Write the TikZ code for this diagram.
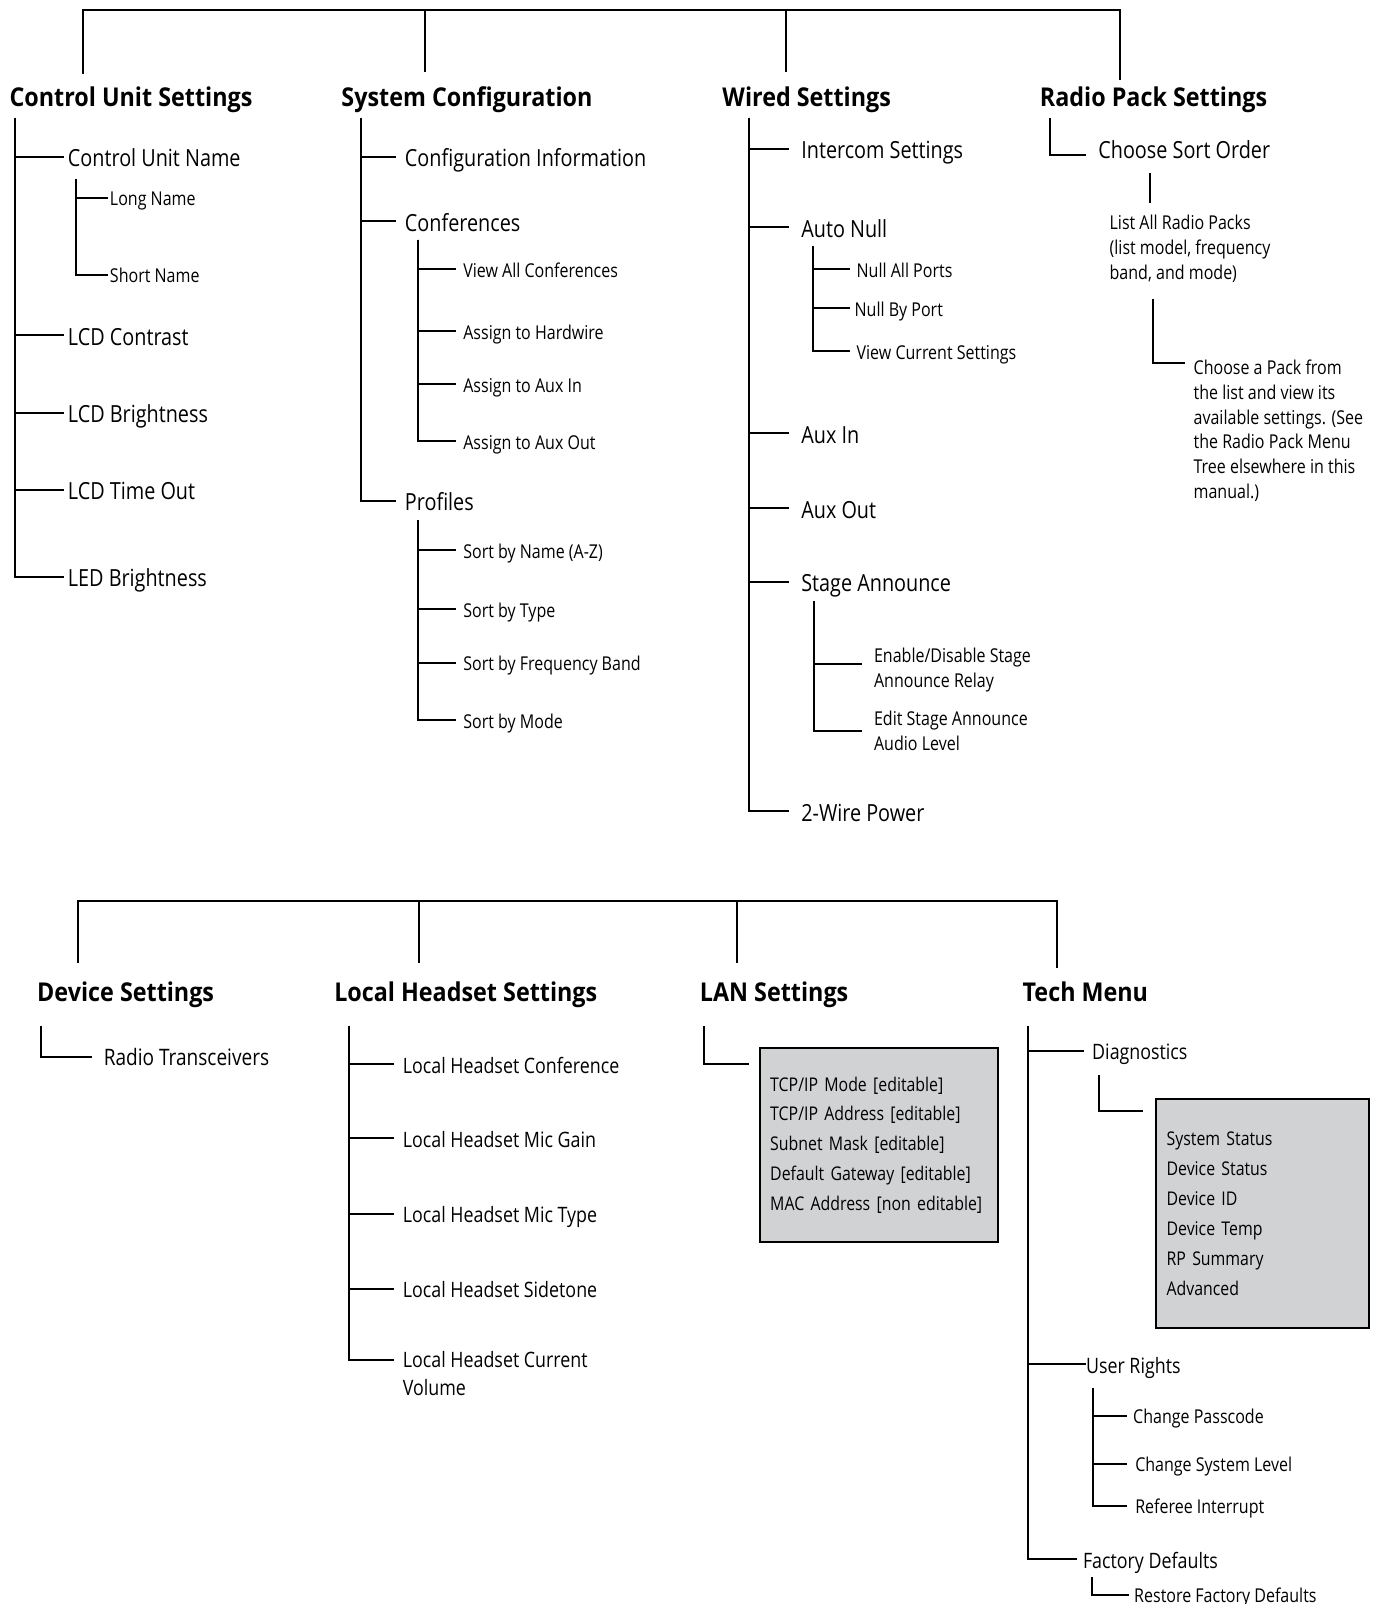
\documentclass[tikz,border=0pt]{standalone}
\usepackage{fontspec}
\setmainfont{Open Sans}[FakeStretch=0.84,BoldFeatures={FakeStretch=0.9}]
\usetikzlibrary{calc}
\definecolor{boxgray}{RGB}{209,210,212}

\tikzset{
	tree/.style={line width=1.1pt},
	head/.style={anchor=west, inner sep=0pt, text height=10.8pt, text depth=3.2pt, font=\fontsize{14.4}{17}\selectfont\bfseries},
	entry/.style={anchor=west, inner sep=0pt, text height=11.2pt, text depth=0pt, font=\fontsize{13.1}{15.5}\selectfont},
	deventry/.style={anchor=west, inner sep=0pt, text height=10.8pt, text depth=0pt, font=\fontsize{12.6}{15}\selectfont},
	lowentry/.style={anchor=west, inner sep=0pt, text height=10.1pt, text depth=0pt, font=\fontsize{11.8}{14}\selectfont},
	subentry/.style={anchor=west, inner sep=0pt, text height=9.1pt, text depth=0pt, font=\fontsize{10.6}{13.8}\selectfont},
	note/.style={anchor=north west, inner sep=0pt, align=left, font=\fontsize{10.6}{13.8}\selectfont},
	entrynote/.style={anchor=north west, inner sep=0pt, align=left, font=\fontsize{11.8}{15.3}\selectfont},
	infobox/.style={draw, fill=boxgray, line width=1.1pt, anchor=north west, inner xsep=0.2cm, inner ysep=0pt,
		align=left, font=\fontsize{10.5}{16.6}\selectfont}
}

\begin{document}
\begin{tikzpicture}[x=0.02cm, y=-0.02cm]
		\useasboundingbox (0,0) rectangle (1340,1566);

		% upper tree
		\coordinate (rail) at (0,10);
		\coordinate (b1) at (81,72);
		\coordinate (b2) at (415,70);
		\coordinate (b3) at (767,70);
		\coordinate (b4) at (1093,78);
		\draw[tree] (b1) |- (rail -| b4) -- (b4);
		\draw[tree] (b2) -- (b2 |- rail);
		\draw[tree] (b3) -- (b3 |- rail);

		\begin{scope}
			\node[head] (cus) at (9,97) {Control Unit Settings};
			\coordinate (cusT) at (15,115);
			\node[entry] (cun) at (66,153) {Control Unit Name};
			\node[subentry] (lname) at (107,193) {Long Name};
			\node[subentry] (sname) at (107,268) {Short Name};
			\node[entry] (lcdc) at (66,327) {LCD Contrast};
			\node[entry] (lcdb) at (66,403) {LCD Brightness};
			\node[entry] (lcdt) at (66,478) {LCD Time Out};
			\node[entry] (ledb) at (66,563) {LED Brightness};
			\coordinate (cunT) at (74,175);

			\draw[tree] (cusT) |- ($(cun.west)+(-4,0)$);
			\draw[tree] (cusT) |- ($(lcdc.west)+(-4,0)$);
			\draw[tree] (cusT) |- ($(lcdb.west)+(-4,0)$);
			\draw[tree] (cusT) |- ($(lcdt.west)+(-4,0)$);
			\draw[tree] (cusT) |- ($(ledb.west)+(-4,0)$);
			\draw[tree] (cunT) |- ($(lname.west)+(-2,0)$);
			\draw[tree] (cunT) |- ($(sname.west)+(-2,0)$);
		\end{scope}

		\begin{scope}
			\node[head] (sysc) at (333,97) {System Configuration};
			\coordinate (syscT) at (352,115);
			\node[entry] (cinfo) at (395,153) {Configuration Information};
			\node[entry] (conf) at (395,216) {Conferences};
			\node[entry] (prof) at (395,489) {Profiles};
			\coordinate (confT) at (408,234);
			\node[subentry] (vac) at (452,263) {View All Conferences};
			\node[subentry] (ahw) at (452,323) {Assign to Hardwire};
			\node[subentry] (aai) at (452,375) {Assign to Aux In};
			\node[subentry] (aao) at (452,431) {Assign to Aux Out};
			\coordinate (profT) at (408,508);
			\node[subentry] (sbn) at (452,537) {Sort by Name (A-Z)};
			\node[subentry] (sbt) at (452,595) {Sort by Type};
			\node[subentry] (sbf) at (452,647) {Sort by Frequency Band};
			\node[subentry] (sbm) at (452,703) {Sort by Mode};

			\draw[tree] (syscT) |- ($(cinfo.west)+(-8,0)$);
			\draw[tree] (syscT) |- ($(conf.west)+(-8,0)$);
			\draw[tree] (syscT) |- ($(prof.west)+(-8,0)$);
			\draw[tree] (confT) |- ($(vac.west)+(-7,0)$);
			\draw[tree] (confT) |- ($(ahw.west)+(-7,0)$);
			\draw[tree] (confT) |- ($(aai.west)+(-7,0)$);
			\draw[tree] (confT) |- ($(aao.west)+(-7,0)$);
			\draw[tree] (profT) |- ($(sbn.west)+(-7,0)$);
			\draw[tree] (profT) |- ($(sbt.west)+(-7,0)$);
			\draw[tree] (profT) |- ($(sbf.west)+(-7,0)$);
			\draw[tree] (profT) |- ($(sbm.west)+(-7,0)$);
		\end{scope}

		\begin{scope}
			\node[head] (wired) at (705,97) {Wired Settings};
			\coordinate (wiredT) at (731,115);
			\node[entry] (icom) at (782,145) {Intercom Settings};
			\node[entry] (anull) at (782,222) {Auto Null};
			\node[entry] (auxin) at (782,423) {Aux In};
			\node[entry] (auxout) at (782,496) {Aux Out};
			\node[entry] (stage) at (782,568) {Stage Announce};
			\node[entry] (twow) at (782,792) {2-Wire Power};
			\coordinate (anullT) at (794,240);
			\node[subentry] (nap) at (836,263) {Null All Ports};
			\node[subentry] (nbp) at (834,301) {Null By Port};
			\node[subentry] (vcs) at (836,343) {View Current Settings};
			\coordinate (stageT) at (795,587);
			\node[note] (ena) at (853,632) {Enable/Disable Stage\\Announce Relay};
			\node[note] (edit) at (853,694) {Edit Stage Announce\\Audio Level};

			\draw[tree] (wiredT) |- ($(icom.west)+(-12,0)$);
			\draw[tree] (wiredT) |- ($(anull.west)+(-12,0)$);
			\draw[tree] (wiredT) |- ($(auxin.west)+(-12,0)$);
			\draw[tree] (wiredT) |- ($(auxout.west)+(-12,0)$);
			\draw[tree] (wiredT) |- ($(stage.west)+(-12,0)$);
			\draw[tree] (wiredT) |- ($(twow.west)+(-12,0)$);
			\draw[tree] (anullT) |- ($(nap.west)+(-6,0)$);
			\draw[tree] (anullT) |- ($(nbp.west)+(-4,0)$);
			\draw[tree] (anullT) |- ($(vcs.west)+(-6,0)$);
			\draw[tree] (stageT) |- ($(ena.north west)+(-11,16)$);
			\draw[tree] (stageT) |- ($(edit.north west)+(-11,20)$);
		\end{scope}

		\begin{scope}
			\node[head] (radio) at (1015,97) {Radio Pack Settings};
			\coordinate (radioT) at (1025,115);
			\node[entry] (sort) at (1072,145) {Choose Sort Order};
			\node[note] (packs) at (1083,210) {List All Radio Packs\\(list model, frequency\\band, and mode)};
			\coordinate (packsB) at (1126,292);
			\node[note] (pack) at (1165,351) {Choose a Pack from\\the list and view its\\available settings. (See\\the Radio Pack Menu\\Tree elsewhere in this\\manual.)};

			\draw[tree] (radioT) |- ($(sort.west)+(-12,6)$);
			\draw[tree] ($(sort.south west)+(51,14)$) -- ($(packs.north west)+(40,-12)$);
			\draw[tree] (packsB) |- ($(pack.north west)+(-8,3)$);
		\end{scope}

		% lower tree
		\coordinate (rail2) at (0,880);
		\coordinate (c1) at (76,940);
		\coordinate (c2) at (409,940);
		\coordinate (c3) at (720,940);
		\coordinate (c4) at (1032,945);
		\draw[tree] (c1) |- (rail2 -| c4) -- (c4);
		\draw[tree] (c2) -- (c2 |- rail2);
		\draw[tree] (c3) -- (c3 |- rail2);

		\begin{scope}
			\node[head] (dev) at (36,971) {Device Settings};
			\coordinate (devT) at (40,1002);
			\node[deventry] (rtx) at (101,1031) {Radio Transceivers};
			\draw[tree] (devT) |- ($(rtx.west)+(-11,1)$);
		\end{scope}

		\begin{scope}
			\node[head] (lhs) at (326,971) {Local Headset Settings};
			\coordinate (lhsT) at (341,1002);
			\node[lowentry] (lhc) at (393,1039) {Local Headset Conference};
			\node[lowentry] (lhg) at (393,1111) {Local Headset Mic Gain};
			\node[lowentry] (lht) at (393,1185) {Local Headset Mic Type};
			\node[lowentry] (lhst) at (393,1258) {Local Headset Sidetone};
			\node[entrynote] (lhv) at (393,1319) {Local Headset Current\\Volume};

			\draw[tree] (lhsT) |- ($(lhc.west)+(-8,0)$);
			\draw[tree] (lhsT) |- ($(lhg.west)+(-8,0)$);
			\draw[tree] (lhsT) |- ($(lht.west)+(-8,0)$);
			\draw[tree] (lhsT) |- ($(lhst.west)+(-8,0)$);
			\draw[tree] (lhsT) |- ($(lhv.north west)+(-8,9)$);
		\end{scope}

		\begin{scope}
			\node[head] (lan) at (683,971) {LAN Settings};
			\coordinate (lanT) at (687,1002);
			\node[infobox, text width=4.24cm, minimum height=3.8cm] (lanbox) at (741,1022)
				{TCP/IP Mode [editable]\\TCP/IP Address [editable]\\Subnet Mask [editable]\\Default Gateway [editable]\\MAC Address [non editable]};
			\draw[tree] (lanT) |- ($(lanbox.north west)+(-10,17)$);
		\end{scope}

		\begin{scope}
			\node[head] (tech) at (998,971) {Tech Menu};
			\coordinate (techT) at (1004,1002);
			\node[lowentry] (diag) at (1066,1026) {Diagnostics};
			\node[lowentry] (urights) at (1060,1332) {User Rights};
			\node[lowentry] (fdef) at (1057,1522) {Factory Defaults};
			\coordinate (diagT) at (1073,1050);
			\node[infobox, text width=3.76cm, minimum height=4.48cm] (diagbox) at (1128,1072)
				{System Status\\Device Status\\Device ID\\Device Temp\\RP Summary\\Advanced};
			\coordinate (urT) at (1067,1355);
			\node[subentry] (cpass) at (1106,1382) {Change Passcode};
			\node[subentry] (csys) at (1108,1429) {Change System Level};
			\node[subentry] (ref) at (1108,1470) {Referee Interrupt};
			\coordinate (fdT) at (1066,1540);
			\node[subentry] (rfd) at (1107,1557) {Restore Factory Defaults};

			\draw[tree] (techT) |- ($(diag.west)+(-8,0)$);
			\draw[tree] (techT) |- (urights.west);
			\draw[tree] (techT) |- ($(fdef.west)+(-6,0)$);
			\draw[tree] (diagT) |- ($(diagbox.north west)+(-12,13)$);
			\draw[tree] (urT) |- ($(cpass.west)+(-6,0)$);
			\draw[tree] (urT) |- ($(csys.west)+(-8,0)$);
			\draw[tree] (urT) |- ($(ref.west)+(-8,0)$);
			\draw[tree] (fdT) |- ($(rfd.west)+(-5,0)$);
		\end{scope}
	\end{tikzpicture}
\end{document}
